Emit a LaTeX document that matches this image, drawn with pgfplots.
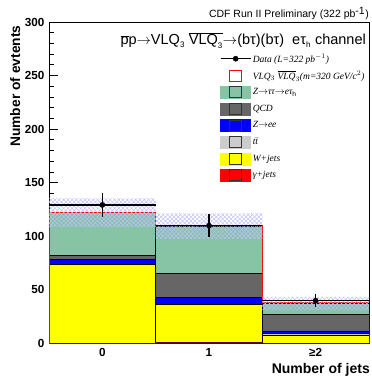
\documentclass[border=0pt]{standalone}
\usepackage{pgfplots}
\pgfplotsset{compat=1.18}
\usetikzlibrary{patterns.meta}
\usepackage{fontspec}
\setmainfont{Liberation Sans}
\newfontfamily\legfont{Liberation Serif}
\definecolor{ztt}{RGB}{135,195,165}
\definecolor{qcd}{RGB}{102,102,102}
\definecolor{zee}{RGB}{0,0,255}
\definecolor{ttb}{RGB}{204,204,204}
\definecolor{wj}{RGB}{255,255,0}
\definecolor{gj}{RGB}{255,0,0}
\newcommand{\boxleg}[1]{\addlegendimage{legend image code/.code={%
  \fill[#1] (0,-6bp) rectangle (30bp,6bp);
  \draw[black!80,line width=1bp,fill=#1] (9bp,-5.5bp) rectangle (21bp,5.5bp);}}}
\begin{document}
\begin{tikzpicture}[x=1bp,y=1bp]
\begin{axis}[
  scale only axis,
  width=320bp, height=321.5bp,
  at={(49bp,34.5bp)}, anchor=south west,
  xmin=-0.5, xmax=2.5, ymin=0, ymax=300,
  xtick={0,1,2}, xticklabels={0,1,{≥2}},
  x tick style={draw=none},
  ytick={0,50,...,300},
  minor y tick num=4,
  ytick pos=left,
  tick align=inside,
  major tick length=9bp, minor tick length=5bp,
  tick style={black, line width=0.8bp},
  axis line style={line width=0.9bp},
  /pgf/number format/assume math mode=true,
  ticklabel style={font=\bfseries\fontsize{11.7bp}{13bp}\selectfont},
  yticklabel style={xshift=-1bp},
  xticklabel style={yshift=-1bp},
  legend style={at={(axis description cs:0.534,0.906)}, anchor=north west,
    draw=none, fill=none, inner sep=0pt, row sep=4.2bp,
    font=\legfont\itshape\fontsize{9.5bp}{10bp}\selectfont,
    nodes={inner sep=1.5bp}},
  legend cell align=left,
]
% legend entries
\addlegendimage{legend image code/.code={%
  \draw[black,line width=1.2bp] (0,0) -- (30bp,0);
  \fill[black] (15bp,0) circle (2.6bp);}}
\addlegendentry{Data (L=322 pb$^{-1}$)}
\addlegendimage{legend image code/.code={%
  \draw[red,line width=0.9bp,fill=white] (9bp,-5.5bp) rectangle (21bp,5.5bp);}}
\addlegendentry{VLQ$_3$ $\overline{\mbox{VLQ}}_3$(m=320 GeV/c$^2$)}
\boxleg{ztt}\addlegendentry{Z$\rightarrow$ττ$\rightarrow$eτ$_{\mathrm{h}}$}
\boxleg{qcd}\addlegendentry{QCD}
\boxleg{zee}\addlegendentry{Z$\rightarrow$ee}
\boxleg{ttb}\addlegendentry{t$\bar{\mbox{t}}$}
\boxleg{wj}\addlegendentry{W+jets}
\boxleg{gj}\addlegendentry{γ+jets}
% cumulative stack, drawn from top to bottom
\addplot[ybar interval, fill=ztt, draw=black, line width=0.9bp, forget plot]
  coordinates {(-0.5,122) (0.5,109.5) (1.5,37.3) (2.5,37.3)};
\addplot[ybar interval, fill=qcd, draw=black, line width=0.9bp, forget plot]
  coordinates {(-0.5,82) (0.5,65.6) (1.5,27.3) (2.5,27.3)};
\addplot[ybar interval, fill=zee, draw=black, line width=0.9bp, forget plot]
  coordinates {(-0.5,78.7) (0.5,43) (1.5,11.7) (2.5,11.7)};
\addplot[ybar interval, fill=ttb, draw=black, line width=0.9bp, forget plot]
  coordinates {(-0.5,74) (0.5,36.5) (1.5,9.5) (2.5,9.5)};
\addplot[ybar interval, fill=wj, draw=black, line width=0.9bp, forget plot]
  coordinates {(-0.5,73.5) (0.5,36) (1.5,7.7) (2.5,7.7)};
\addplot[ybar interval, fill=gj, draw=black!60!red, line width=0.9bp, forget plot]
  coordinates {(-0.5,0.3) (0.5,1.0) (1.5,0.2) (2.5,0.2)};
% signal on top of stack
\addplot[const plot, red, line width=0.9bp, forget plot]
  coordinates {(-0.5,0) (-0.5,122.6) (0.5,122.6) (0.5,109.8) (1.5,109.8) (1.5,38.6) (2.5,38.6)};
\addplot[const plot, black, line width=0.9bp, forget plot]
  coordinates {(0.5,109.5) (1.5,109.5)};
% uncertainty band
\addplot[draw=none, pattern={Hatch[angle=45,distance=3bp,line width=0.5bp]}, pattern color=blue!25, forget plot]
  coordinates {(-0.5,135.5) (0.5,135.5) (0.5,121.5) (1.5,121.5) (1.5,43.5) (2.5,43.5)
               (2.5,31.3) (1.5,31.3) (1.5,97.5) (0.5,97.5) (0.5,108.5) (-0.5,108.5)} -- cycle;
% data
\addplot[black, only marks, mark=*, mark size=2.6bp, forget plot,
  error bars/.cd, x dir=both, x fixed=0.5, y dir=both, y explicit,
  error mark=none, error bar style={line width=1.2bp, black}]
  coordinates {(0,129.3) +- (0,11.4) (1,110) +- (0,10.5) (2,40) +- (0,6.3)};
\end{axis}
\node[anchor=base east, rotate=90, font=\bfseries\fontsize{13.8bp}{15bp}\selectfont] at (20bp,356bp) {Number of evtents};
\node[anchor=base east, font=\bfseries\fontsize{14bp}{15bp}\selectfont, inner sep=0pt] at (370bp,5bp) {Number of jets};
\node[anchor=base east, font=\fontsize{10.5bp}{12bp}\selectfont, inner sep=0pt] at (369bp,360bp) {CDF Run II Preliminary (322 pb$^{\mbox{-1}}$)};
\node[anchor=base east, font=\fontsize{14.5bp}{16bp}\selectfont, inner sep=0pt] at (366bp,333bp)
  {$\overline{\mbox{p}}$p$\rightarrow$VLQ$_{\mbox{\fontsize{8bp}{9bp}\selectfont 3}}$ $\overline{\mbox{VLQ}_{\mbox{\fontsize{8bp}{9bp}\selectfont 3}}}$$\rightarrow$(bτ)(bτ)\ \ eτ$_{\mbox{\fontsize{8bp}{9bp}\selectfont h}}$ channel};
\pgfresetboundingbox
\useasboundingbox (0,0) rectangle (372bp,378bp);
\end{tikzpicture}
\end{document}
